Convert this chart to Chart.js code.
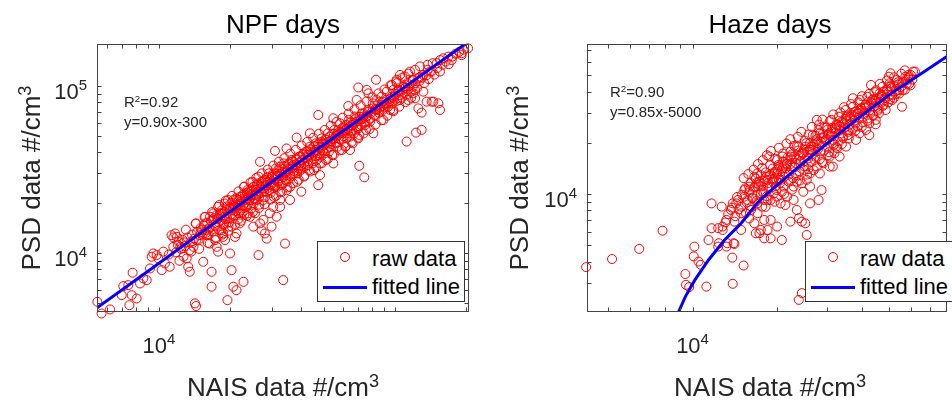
<!DOCTYPE html>
<html>
<head>
<meta charset="utf-8">
<script src="https://cdn.jsdelivr.net/npm/chart.js@4.4.1/dist/chart.umd.min.js"></script>
<style>
  html, body { margin: 0; padding: 0; background: #fff; }
  body { width: 952px; height: 403px; position: relative; overflow: hidden;
         font-family: 'Liberation Sans', Arial, sans-serif; }
  canvas { position: absolute; top: 0; }
  .txt { position: absolute; white-space: nowrap; }
  .ttl { font-size: 26px; line-height: 30px; color: #000; transform: translateX(-50%); }
  .axt { font-size: 26px; line-height: 30px; color: #262626; }
  .ann { font-size: 15px; line-height: 18px; color: #262626; }
  .tick { position: absolute; white-space: nowrap; font-size: 22px; line-height: 26px; color: #262626; }
  sup { font-size: 0.7em; line-height: 0; vertical-align: baseline; position: relative; top: -0.5em; }
  .ann sup { font-size: 0.65em; top: -0.55em; }
  .tick sup { font-size: 0.68em; top: -0.6em; }
  .leg { position: absolute; box-sizing: border-box; border: 1px solid #333; background: #fff;
         width: 148px; height: 61px; }
  .leg span { position: absolute; font-size: 22px; line-height: 26px; color: #000; white-space: nowrap; }
  .leg .mk { position: absolute; left: 22px; top: 10px; width: 10px; height: 10px; box-sizing: border-box;
             border: 1px solid #ff0000; border-radius: 50%; }
  .leg .ln { position: absolute; left: 5px; top: 43.5px; width: 44px; height: 3px; background: #0000ff; }
</style>
</head>
<body>
<canvas id="npfChart" width="480" height="403" style="left:0"></canvas>
<canvas id="hazeChart" width="472" height="403" style="left:480px"></canvas>

<div class="txt ttl" style="left:283px; top:9px">NPF days</div>
<div class="txt ttl" style="left:770px; top:9px">Haze days</div>

<div class="txt ann" style="left:124px; top:93px">R<sup>2</sup>=0.92</div>
<div class="txt ann" style="left:124px; top:113px">y=0.90x-300</div>
<div class="txt ann" style="left:610px; top:83px">R<sup>2</sup>=0.90</div>
<div class="txt ann" style="left:610px; top:103px">y=0.85x-5000</div>

<div class="txt axt" style="left:283px; top:372px; transform:translateX(-50%)">NAIS data #/cm<sup>3</sup></div>
<div class="txt axt" style="left:770px; top:372px; transform:translateX(-50%)">NAIS data #/cm<sup>3</sup></div>
<div class="txt axt" style="left:30.5px; top:178px; transform:translate(-50%,-50%) rotate(-90deg)">PSD data #/cm<sup>3</sup></div>
<div class="txt axt" style="left:518.5px; top:178px; transform:translate(-50%,-50%) rotate(-90deg)">PSD data #/cm<sup>3</sup></div>

<div class="leg" style="left:317px; top:241px">
  <div class="mk"></div><span style="left:54px; top:4px">raw data</span>
  <div class="ln"></div><span style="left:54px; top:32px">fitted line</span>
</div>
<div class="leg" style="left:805px; top:241px; width:160px">
  <div class="mk"></div><span style="left:54px; top:4px">raw data</span>
  <div class="ln"></div><span style="left:54px; top:32px">fitted line</span>
</div>

<script>
// values in 10^3 #/cm3, pairs of [NAIS, PSD]
const npfRaw = [
  [5.48,5.11],[5.71,4.35],[6.20,4.60],[6.95,5.60],[7.06,6.34],[7.41,6.43],[7.49,4.88],[7.66,5.60],
  [8.04,5.35],[7.73,7.63],[8.31,6.58],[8.58,7.05],[8.87,6.89],[9.16,8.09],[9.31,9.51],[9.46,9.95],
  [9.77,9.73],[9.93,9.29],[10.26,7.91],[10.43,10.2],[10.6,8.67],[11.1,8.28],[11.3,12.8],[11.7,13.1],
  [11.9,12.5],[12.1,11.7],[12.3,10.9],[11.5,10.9],[12.7,9.51],[13.1,9.29],[13.5,10.4],[13.3,8.28],
  [13.5,7.73],[14.0,10.9],[14.35,15.05],[14.4,11.97],[14.9,12.8],[15.4,8.87],[15.7,16.5],[15.9,13.7],
  [16.2,12.8],[16.4,11.4],[16.7,7.73],[17.0,15.8],[17.3,11.97],[17.55,10.9],[17.8,10.2],[18.1,17.3],
  [18.4,13.7],[18.7,12.5],[19.05,11.97],[19.35,18.1],[19.7,14.4],[20.0,9.95],[20.3,7.91],[20.65,6.29],
  [21.0,12.5],[21.3,13.1],[21.7,20.8],[22.0,15.05],[22.4,17.3],[22.8,6.73],[23.1,22.8],[23.5,18.9],
  [24.3,16.5],[24.7,23.8],[25.1,14.4],[25.5,17.3],[25.9,20.8],[26.4,9.73],[26.8,15.05],[27.2,13.7],
  [27.7,15.8],[28.1,13.1],[28.6,12.2],[29.5,17.3],[30.0,14.4],[30.5,18.9],[31.0,24.9],[31.5,16.5],
  [32.6,20.8],[33.6,6.89],[34.2,11.4],[34.75,23.8],[19.5,5.23],[16.7,6.29],[21.3,6.0],[14.2,5.0],
  [14.35,4.82],
  [15.2,13.7],[15.7,15.05],[15.9,12.8],[16.45,16.5],[17.0,17.3],[17.4,14.4],[17.8,18.9],[18.3,15.8],
  [18.7,13.1],[19.0,19.8],[19.4,16.1],[19.9,18.5],[20.3,14.4],[20.65,20.8],[21.0,16.9],[21.5,19.4],
  [22.05,21.7],[22.4,18.5],[22.9,24.9],[23.4,20.8],[23.9,17.3],[24.3,23.3],[24.9,26.7],[25.2,19.8],
  [25.9,22.8],[26.4,28.7],[27.0,24.4],[27.7,20.8],[28.1,27.4],[28.6,23.3],[29.2,30.0],[29.8,25.5],
  [30.4,28.7],[30.7,21.7],[31.3,32.1],[32.0,26.7],[32.6,23.3],[33.2,30.7],[33.8,34.4],[34.4,27.4],
  [35.0,32.1],[35.9,24.9],[36.5,36.1],[37.1,30.0],[37.8,32.9],[38.5,26.7],[39.2,37.7],[39.9,31.4],
  [40.5,36.1],[41.2,28.7],[41.8,40.4],[42.8,33.6],[43.6,43.3],[44.3,37.7],[45.4,31.4],[46.2,45.4],
  [47.0,38.6],[48.1,34.4],[48.9,48.6],[49.7,41.4],[51.0,36.1],[52.0,52.1],[53.0,43.3],[54.2,38.6],
  [55.3,54.6],[56.2,45.4],[57.5,51.0],[58.5,59.8],[59.6,41.4],[60.8,55.8],[62.4,48.6],[63.6,62.6],
  [64.9,53.3],[66.2,45.4],[67.7,65.6],[68.8,57.1],[70.6,51.0],[72.3,68.6],[73.9,59.8],[75.3,54.6],
  [77.1,71.9],[78.4,61.2],[80.5,78.8],[82.3,67.1],[83.6,82.5],[85.8,71.9],[87.8,86.4],[89.9,75.2],
  [92.2,92.5],[94.7,80.6],[97.0,101.5],[99.4,86.4],[101.7,109],[103.7,94.7],[105,116.5],
  [108.5,99],[110.2,114],[112.8,104],[115.8,122],[118.8,109],[121.6,125],[125.6,111.5],[127.6,131],
  [131.9,116.5],[137.6,134],[140.7,122],[144.4,137],[150.2,137],[155.2,143],[160.3,146.5],[168.3,150],
  [174,143],[191.6,157],[204,168],
  [26.8,35.2],[31.0,40.9],[38.3,49.1],[47.3,67.1],[54.8,64.1],[63.4,75.9],[69.9,98],[83.1,109],
  [43.6,52.1],[34.7,42.3],[75.9,94.7],[113.9,82.5],[121.6,84.4],[125.6,73.5],[131.9,92.5],[129.7,69.3],
  [143.0,80.6],[152.7,78.8],[155.2,71.9],[119.6,90.4],[105,82.5],[98.4,71.9],[89.3,62.6],[81.0,52.1],
  [64.5,41.4],[54.8,34.4],[48.1,29.3],[70.6,33.3],[74.1,28.4],[112,46.5],[122.8,52.6],[129.7,54.6],
  [35.9,20.8],[40.1,23.3],[32.6,18.9],[47.3,25.5],[191.6,153],[101.7,104],[77.1,90.4],[69.9,48.6],
  [136.2,80.6],[145.4,80.6],[121.6,94.7],[98.4,94.7],[92.2,78.8],[83.6,71.9],[95.3,71.9],[75.9,65.6],
  [68.8,82.5],
  [17.7,16.1],[18.0,13.7],[18.5,17.3],[18.9,14.9],[19.6,20.8],[20.1,16.5],[20.5,18.1],[20.9,18.9],
  [21.2,21.3],[21.8,17.3],[22.2,20.3],[22.6,22.3],[23.1,18.9],[23.7,23.8],[24.1,20.8],[24.7,22.3],
  [25.1,24.9],[25.6,21.3],[26.1,26.1],[26.6,21.7],[27.2,26.7],[27.9,23.3],[28.4,25.5],[28.9,26.7],
  [29.3,23.8],[30.0,28.7],[30.5,25.5],[31.1,30.0],[31.7,24.9],[32.4,32.9],[32.9,28.0],[33.5,26.1],
  [34.2,30.7],[34.7,29.3],[35.4,34.4],[36.1,28.7],[36.8,32.1],[37.6,30.0],[38.3,36.1],[38.9,32.1],
  [40.1,33.6],[40.9,38.6],[41.6,32.9],[42.5,36.9],[43.3,31.4],[44.0,40.4],[44.8,34.4],[45.8,41.4],
  [46.6,36.1],[47.5,43.3],[48.5,37.7],[49.4,45.4],[50.4,39.5],[51.3,47.5],[52.5,40.4],[53.6,46.5],
  [55.6,48.6],[57.1,43.3],[58.1,53.3],[59.2,47.5],[60.4,52.1],[61.6,43.3],[63.0,54.6],[64.5,49.8],
  [65.8,58.4],[67.1,52.1],[68.4,61.2],[69.9,55.8],[71.6,62.6],[73.4,65.6],[74.8,58.4],
  [12.0,11.2],[12.4,10.6],[12.6,12.0],[12.9,11.0],[13.2,12.4],[13.6,11.6],[13.8,12.9],[14.1,12.2],
  [14.5,13.4],[14.7,12.0],[15.0,14.1],[15.3,12.9],[15.5,14.6],[15.8,13.2],[16.0,15.2],[16.3,14.0],
  [16.6,15.6],[16.9,13.5],[17.1,16.2],[17.3,14.6],[17.6,17.0],[17.9,15.3],[18.2,16.6],[18.4,18.0],
  [18.6,14.9],[18.9,17.6],[19.1,16.0],[19.3,19.0],[19.6,17.3],[19.8,15.2],[20.1,18.6],[20.3,20.0],
  [20.5,16.8],[20.8,19.3],[21.1,17.8],[21.4,21.0],[21.6,15.9],[21.9,19.7],[22.2,18.0],[22.5,21.8],
  [22.7,19.3],[23.0,17.0],[23.3,21.2],[23.6,22.8],[23.8,19.6],[24.1,23.6],[24.4,21.3],[24.6,18.4],
  [24.9,22.6],[25.2,24.9],[25.4,21.0],[25.7,23.9],[26.0,25.6],[26.3,22.4],[26.6,19.5],[26.9,25.0],
  [27.2,23.0],[27.5,27.0],[27.8,24.4],[28.1,21.6],[28.4,26.3],[28.7,28.4],[29.0,24.6],[29.4,27.3],
  [29.7,22.9],[30.0,26.0],[30.3,29.6],[30.7,27.7],[31.0,25.2],[31.4,29.0],[31.8,31.0],[32.1,27.0],
  [32.5,29.8],[32.9,25.6],[33.3,31.8],[33.6,28.5],[34.0,33.2],[34.4,30.3],[34.8,26.9],[35.2,31.6],
  [35.6,34.0],[36.0,29.5],[36.4,32.7],[36.8,35.4],[37.3,31.0],[37.7,33.9],[38.1,36.7],[38.6,29.9],
  [39.0,34.8],[39.5,37.9],[39.9,33.0],[40.4,36.0],[40.8,39.2],[41.3,34.0],[41.8,37.4],[42.3,40.6],
  [42.8,35.5],[43.3,38.9],[43.8,41.8],[44.3,36.2],[44.9,40.0],[45.4,43.5],[46.0,38.0],[46.5,41.3],
  [47.1,44.9],[47.7,39.6],[48.3,42.9],[48.9,46.2],[49.5,40.9],[50.1,44.6],[50.8,48.0],[51.5,42.6],
  [52.2,46.3],[52.9,49.9],[53.6,44.7],[54.3,48.2],[55.0,51.8],[55.8,46.0],[56.6,50.3],[57.3,54.2],
  [58.1,48.1],[58.9,52.4],[59.7,56.0],[60.5,50.0],[61.4,54.6],[62.2,58.4],[63.1,52.3],[64.0,57.0],
  [64.9,60.6],[65.8,54.2],[66.8,59.0],[67.7,63.1],[68.7,56.4],[69.7,61.5],[70.7,65.4],[71.7,58.6],
  [72.8,63.8],[73.8,68.2],[74.9,60.8],[76.0,66.2],[77.1,70.5],[78.3,63.5],[79.4,69.0],[80.6,73.4],
  [81.8,66.4],[83.0,71.8],[84.2,76.6],[85.5,69.2],[86.7,74.8],[88.0,79.3],[89.3,72.0],[90.7,77.6],
  [92.0,82.7],[93.4,75.1],[94.8,80.9],[96.2,86.0],[97.6,78.4],[99.1,84.1],[100.6,89.6],[102.1,81.7],
  [103.6,87.7],[105.2,93.0],[106.8,85.0],[108.4,91.3],[110.0,96.8],[111.7,88.6],[113.4,95.0],[115.1,100.5],
  [116.8,92.2],[119,99],[122,104],[124,97],[127,107],[130,112],[133,104],[136,116],[139,110],[143,122],
  [147,117],[151,128],[155,122],[159,134],[164,140],[169,135],[175,150],[181,156],[187,160],[195,165],
  [11.5,12.4],[12.2,9.0],[13.0,13.8],[13.7,10.2],[14.3,15.0],[14.8,10.6],[15.6,16.4],[16.1,11.5],
  [16.8,17.6],[17.4,12.4],[18.0,19.4],[18.5,12.9],[19.2,20.6],[19.7,13.6],[20.4,22.0],[21.0,14.8],
  [21.7,23.4],[22.3,15.6],[23.0,25.0],[23.6,16.7],[24.4,26.5],[25.0,17.6],[25.8,28.2],[26.5,18.6],
  [27.3,30.0],[28.0,19.6],[28.9,31.6],[29.6,20.9],[30.5,33.4],[31.3,22.0],[32.2,35.2],[33.1,23.2],
  [34.0,37.0],[35.0,24.7],[36.0,39.4],[37.0,26.2],[38.0,41.5],[39.1,27.5],[40.2,44.0],[41.3,29.0],
  [42.5,46.3],[43.7,30.8],[45.0,49.0],[46.3,32.6],[47.6,51.8],[49.0,34.5],[50.4,54.6],[51.9,36.6],
  [53.4,57.8],[55.0,38.8],[56.6,61.0],[58.3,41.2],[60.0,64.6],[61.8,43.6],[63.6,68.4],[65.5,46.2],
  [67.4,72.4],[69.4,49.0],[71.5,76.6],[73.6,52.0],[75.8,81.0],[78.0,55.2],[80.3,85.5],[82.7,58.8],
  [85.1,90.3],[87.6,62.4],[90.2,95.4],[92.9,66.4],[95.6,100.8],[98.4,70.6],[101.3,106.4],[104.3,75.2],
  [107.4,112.3],[110.6,80.0],[113.8,118.6],[117.2,85.0],
  [11.0,9.8],[11.8,10.1],[12.8,11.6],[13.9,11.8],[15.1,13.3],[16.4,14.3],[17.7,16.0],[19.0,16.5],
  [20.6,18.6],[22.1,19.2],[23.9,21.9],[25.6,22.3],[27.6,25.1],[29.6,25.9],[31.9,29.0],[34.3,30.0],
  [36.9,33.6],[39.7,34.6],[42.7,38.8],[46.0,40.2],[49.4,45.0],[53.2,46.8],[57.2,52.0],[61.6,54.0],
  [66.3,60.2],[71.3,62.8],[76.7,69.8],[82.5,72.6],[88.8,80.6],[95.5,84.0],[102.8,93.4],[110.6,97.6],
  [119.0,108.0],[128.0,113.0],[137.7,125.0]
];
const npfFit = [[5.46,4.7],[10,8.7],[20,17.7],[50,44.7],[100,89.7],[206,185]];

const hazeRaw = [
  [4.18,3.71],[5.17,4.14],[6.46,4.75],[7.82,6.08],[9.43,3.38],[9.48,2.92],[9.73,2.83],[11.2,2.85],
  [13.9,2.96],[15.2,3.79],[13.85,4.22],[14.0,5.13],[13.2,4.90],[12.34,4.90],[11.4,5.36],[10.15,4.90],
  [10.1,4.29],[10.5,4.0],[10.7,3.83],[11.69,6.29],[12.34,6.29],[12.8,6.43],[13.2,7.03],[14.1,6.87],
  [14.9,7.70],[12.7,8.42],[11.69,8.80],[13.9,8.80],[14.5,9.22],[15.3,10.55],[15.7,9.22],[16.15,8.05],
  [17.04,7.70],[16.8,5.87],[17.5,6.14],[18.0,5.48],[18.97,5.48],[18.5,6.14],[16.6,6.72],[18.0,7.03],
  [18.97,7.03],[20.0,6.43],[20.8,5.36],[22.3,6.87],[23.5,8.05],[24.5,6.87],[25.2,6.72],[25.5,5.74],
  [23.9,7.20],[22.9,9.22],[21.4,8.61],[20.6,8.80],[20.0,9.64],[18.97,9.22],[18.0,9.22],[17.5,10.09],
  [16.6,12.6],[18.5,12.1],[19.5,13.2],[18.75,16.6],[20.0,15.85],[21.1,14.5],[22.3,16.6],[23.5,19.0],
  [24.8,17.35],[26.2,19.9],[27.7,27.3],[28.4,22.7],[30.0,20.8],[31.6,19.9],[33.4,24.9],[35.2,28.5],
  [37.2,36.6],[39.3,31.2],[42.6,26.0],[43.2,43.8],[44.9,34.1],[47.4,37.3],[50.0,42.8],[50.7,51.3],
  [57.2,49.0],[61.0,52.5],[55.7,32.6],[51.4,35.7],[48.7,31.2],[46.1,29.8],[44.9,25.7],[42.6,22.2],
  [39.3,22.7],[36.2,23.8],[34.3,21.8],[32.5,19.0],[30.8,16.6],[29.2,15.15],[27.7,14.5],[26.2,13.2],
  [31.6,14.5],[28.8,10.55],[28.1,9.22],[26.2,8.80],[26.2,11.05],[24.8,10.3],[23.5,11.8],[25.5,12.1],
  [22.3,12.1],[21.1,11.05],[20.3,12.1],[23.9,2.38],[24.5,2.61],
  [12.4,5.13],[13.3,5.13],[14.1,5.08],[12.8,6.14],[13.7,8.05],[14.3,8.80],[14.9,6.14],[15.9,7.18],
  [17.3,5.87],
  [16.7,11.05],[17.0,13.2],[17.3,11.8],[17.7,14.2],[17.9,10.09],[18.3,12.6],[18.6,11.05],[18.9,14.8],
  [19.3,11.8],[19.6,13.5],[19.9,10.55],[20.3,14.5],[20.6,12.1],[20.9,16.6],[21.3,13.2],[21.6,15.15],
  [22.0,11.8],[22.3,17.7],[22.7,14.5],[23.0,16.6],[23.4,12.9],[23.8,19.0],[24.2,15.15],[24.6,17.35],
  [25.0,13.85],[25.4,19.9],[25.8,16.2],[26.4,18.2],[26.8,22.2],[27.2,15.85],[27.7,19.9],[28.1,23.8],
  [28.6,17.8],[29.0,21.3],[29.5,24.9],[30.2,19.0],[30.6,22.7],[31.2,27.3],[31.6,20.8],[32.2,24.4],
  [32.7,18.6],[33.2,28.5],[33.8,22.7],[34.5,26.0],[35.1,31.2],[35.8,23.2],[36.4,28.5],[37.2,32.6],
  [38.0,26.0],[38.7,29.8],[39.5,35.7],[40.4,28.5],[41.2,33.4],[41.9,37.3],[42.8,30.5],[43.7,35.7],
  [44.4,39.8],[45.5,32.6],[46.3,39.1],[47.4,42.8],[48.4,35.7],[49.3,40.9],[50.3,44.8],[51.4,38.3],
  [52.5,42.8],[53.4,46.8],[54.4,40.9],[55.7,44.8],[58.1,46.8],[59.9,50.1],[61.9,52.5],[50.0,49.0],
  [15.3,9.64],[15.9,11.05],[16.4,9.43],[17.0,8.80],[17.7,8.42],[14.9,8.42],[15.5,7.70],[18.5,9.22],
  [19.5,10.09],[20.8,10.3],[21.7,9.64],[22.9,11.05],[24.5,11.55],[28.4,13.2],[30.8,14.5],[33.4,16.6],
  [35.2,19.0],[38.2,20.8],[41.5,23.8],[44.9,27.3],
  [15.0,9.9],[15.4,10.8],[15.6,8.9],[15.9,10.2],[16.1,11.6],[16.3,9.5],[16.6,10.9],[16.8,12.3],
  [17.0,9.9],[17.2,11.3],[17.5,12.9],[17.7,10.4],[17.9,11.9],[18.2,13.4],[18.4,9.7],[18.6,11.6],
  [18.8,12.8],[19.1,10.9],[19.3,14.1],[19.5,12.3],[19.8,11.1],[20.0,13.2],[20.2,14.8],[20.5,11.6],
  [20.7,13.6],[21.0,15.5],[21.2,12.6],[21.5,14.2],[21.8,16.4],[22.0,13.0],[22.3,15.0],[22.6,17.1],
  [22.8,12.4],[23.1,14.4],[23.4,16.0],[23.7,18.0],[24.0,13.6],[24.3,15.6],[24.6,17.5],[24.9,14.6],
  [25.2,19.0],[25.5,16.6],[25.8,14.0],[26.1,18.2],[26.4,15.4],[26.7,17.2],[27.0,19.6],[27.3,16.6],
  [27.7,21.0],[28.0,18.4],[28.4,16.0],[28.7,20.2],[29.1,22.6],[29.4,18.0],[29.8,20.6],[30.2,23.8],
  [30.6,17.6],[31.0,21.8],[31.4,24.5],[31.8,19.4],[32.2,22.8],[32.6,25.8],[33.0,20.4],[33.4,23.6],
  [33.9,26.6],[34.3,21.4],[34.8,24.6],[35.2,27.6],[35.7,22.2],[36.2,25.6],[36.7,29.4],[37.2,24.0],
  [37.7,27.0],[38.2,30.6],[38.7,25.0],[39.2,28.2],[39.8,32.0],[40.3,26.4],[40.9,29.6],[41.4,33.6],
  [42.0,27.8],[42.6,31.0],[43.2,34.8],[43.8,29.2],[44.4,32.8],[45.0,36.4],[45.7,31.0],[46.3,34.8],
  [47.0,38.0],[47.7,33.0],[48.4,36.6],[49.1,40.2],[49.8,34.6],[50.6,38.4],[51.3,42.0],[52.1,36.8],
  [52.9,40.4],[53.7,44.0],[54.5,39.0],[55.3,42.6],[56.2,46.0],[57.0,41.0],[57.9,44.6],[58.8,48.6],
  [59.7,43.6],[60.6,47.2],
  [13.4,7.6],[13.8,8.3],[14.2,7.4],[14.6,8.1],[13.1,6.8],[14.4,9.6],[16.2,8.4],[16.9,9.1],
  [15.2,12.4],[15.8,13.1],[16.5,13.9],[17.1,15.0],[17.8,15.8],[18.4,16.9],[19.0,17.9],[19.7,16.1],
  [20.3,18.7],[21.0,17.3],[21.6,19.8],[22.3,21.0],[23.0,19.2],[23.7,21.7],[24.4,23.2],[25.1,20.6],
  [25.9,22.4],[26.6,24.8],[27.4,22.0],[28.2,25.6],[29.0,27.4],[29.9,24.6],[30.8,26.8],[31.7,29.4],
  [32.6,25.4],[33.6,30.2],[34.6,32.4],[35.6,29.0],[36.7,33.8],[37.8,30.4],[38.9,34.6],[40.1,37.6],
  [41.3,32.4],[42.5,38.8],[43.8,36.0],[45.1,40.8],[46.4,44.4],[47.8,40.0],[49.2,46.6],[50.7,43.0],
  [52.2,48.6],[53.8,45.4],[55.4,51.0],[57.0,53.4],[58.7,50.2],
  [18.2,8.4],[19.6,9.0],[21.2,10.0],[22.6,10.6],[24.1,12.0],[25.6,13.0],[27.0,13.8],[28.9,15.4],
  [30.4,16.9],[32.0,17.4],[34.0,19.6],[36.0,21.2],[38.0,23.6],[40.0,24.8],[42.0,27.0],[44.0,29.0],
  [46.0,31.8],[48.0,33.6],[50.5,36.2],[53.0,38.6],[56.0,40.8],[59.0,44.4],
  [16.0,10.6],[16.9,11.6],[17.6,11.1],[18.1,12.2],[18.9,13.0],[19.4,12.1],[20.1,13.9],[20.9,14.1],
  [21.7,15.0],[22.5,16.0],[23.3,15.2],[24.1,16.8],[24.9,18.2],[25.7,17.6],[26.5,19.0],[27.5,20.4],
  [28.3,19.6],[29.3,21.6],[30.3,22.4],[31.3,23.2],[32.3,24.0],[33.3,25.0],[34.3,26.6],[35.4,27.0],
  [36.5,27.6],[37.6,28.6],[38.8,30.0],[40.0,31.0],[41.2,32.0],[42.4,33.2],[43.6,34.2],[44.8,35.2],
  [46.0,36.8],[47.2,38.4]
];
const hazeFit = [[8.93,2.03],[9.43,2.49],[10.2,3.12],[11.4,4.09],[13.0,5.36],[14.9,6.72],[17.0,8.85],
  [18.5,10.09],[21.1,12.2],[29.2,19.0],[38.2,27.3],[50.0,38.3],[65.5,51.3],[80.2,64.2]];

// labelled ticks
const npfXTicks = [1e4];
const npfYTicks = [1e4, 1e5];
const hazeXTicks = [1e4];
const hazeYTicks = [1e4];

function logSteps(min, max) {
  const out = [];
  for (let e = Math.floor(Math.log10(min)); e <= Math.ceil(Math.log10(max)); e++) {
    for (let m = 1; m < 10; m++) {
      const v = m * Math.pow(10, e);
      if (v >= min && v <= max) out.push(v);
    }
  }
  return out;
}

// matlab style box with inward minor ticks
const boxPlugin = {
  id: 'box',
  afterDraw(chart) {
    const {ctx, chartArea: a, scales} = chart;
    const x = scales.x, y = scales.y;
    const L = Math.round(a.left) + 0.5, R = Math.round(a.right) - 0.5;
    const T = Math.round(a.top) + 0.5, B = Math.round(a.bottom) - 0.5;
    ctx.save();
    ctx.strokeStyle = '#444';
    ctx.lineWidth = 1;
    ctx.beginPath();
    logSteps(x.min, x.max).forEach(v => {
      const p = Math.round(x.getPixelForValue(v)) + 0.5;
      ctx.moveTo(p, B); ctx.lineTo(p, B - 4);
      ctx.moveTo(p, T); ctx.lineTo(p, T + 4);
    });
    logSteps(y.min, y.max).forEach(v => {
      const p = Math.round(y.getPixelForValue(v)) + 0.5;
      ctx.moveTo(L, p); ctx.lineTo(L + 4, p);
      ctx.moveTo(R, p); ctx.lineTo(R - 4, p);
    });
    ctx.stroke();
    ctx.strokeRect(L, T, R - L, B - T);
    ctx.restore();
  }
};

function makeChart(id, raw, fit, lim, yWidth, rightPad) {
  return new Chart(document.getElementById(id), {
    type: 'scatter',
    data: {
      datasets: [{
        label: 'fitted line',
        data: fit.map(p => ({x: p[0] * 1000, y: p[1] * 1000})),
        showLine: true,
        borderColor: '#0000ff',
        borderWidth: 3,
        pointRadius: 0,
        order: 1,
        clip: 0
      }, {
        label: 'raw data',
        data: raw.map(p => ({x: p[0] * 1000, y: p[1] * 1000})),
        pointStyle: 'circle',
        pointRadius: 4.5,
        borderColor: '#ff0000',
        borderWidth: 1,
        backgroundColor: 'rgba(0,0,0,0)',
        order: 2,
        clip: false
      }]
    },
    options: {
      responsive: false,
      devicePixelRatio: 1,
      animation: false,
      events: [],
      layout: {padding: {left: 0, right: rightPad, top: 44, bottom: 0}},
      plugins: {legend: {display: false}, tooltip: {enabled: false}},
      scales: {
        x: {
          type: 'logarithmic', min: lim[0], max: lim[1],
          grid: {display: false, drawTicks: false},
          border: {display: false},
          ticks: {display: false},
          afterFit: s => { s.height = 91; }
        },
        y: {
          type: 'logarithmic', min: lim[2], max: lim[3],
          grid: {display: false, drawTicks: false},
          border: {display: false},
          ticks: {display: false},
          afterFit: s => { s.width = yWidth; }
        }
      }
    },
    plugins: [boxPlugin]
  });
}

// decade labels placed from the chart's own scales
function addTickLabels(chart, offsetLeft, xTicks, yTicks) {
  const a = chart.chartArea;
  const label = v => '10<sup>' + Math.round(Math.log10(v)) + '</sup>';
  xTicks.forEach(v => {
    const d = document.createElement('div');
    d.className = 'tick';
    d.innerHTML = label(v);
    d.style.left = (offsetLeft + chart.scales.x.getPixelForValue(v)) + 'px';
    d.style.top = (a.bottom + 20.5) + 'px';
    d.style.transform = 'translateX(-50%)';
    document.body.appendChild(d);
  });
  yTicks.forEach(v => {
    const d = document.createElement('div');
    d.className = 'tick';
    d.innerHTML = label(v);
    d.style.left = (offsetLeft + a.left - 10) + 'px';
    d.style.top = (chart.scales.y.getPixelForValue(v) - 7.2) + 'px';
    d.style.transform = 'translateX(-100%)';
    document.body.appendChild(d);
  });
}

const npfChart = makeChart('npfChart', npfRaw, npfFit, [5460, 205900, 4440, 178400], 97, 11);
const hazeChart = makeChart('hazeChart', hazeRaw, hazeFit, [4210, 80200, 2020, 76300], 107, 1);
addTickLabels(npfChart, 0, npfXTicks, npfYTicks);
addTickLabels(hazeChart, 480, hazeXTicks, hazeYTicks);
</script>
</body>
</html>
